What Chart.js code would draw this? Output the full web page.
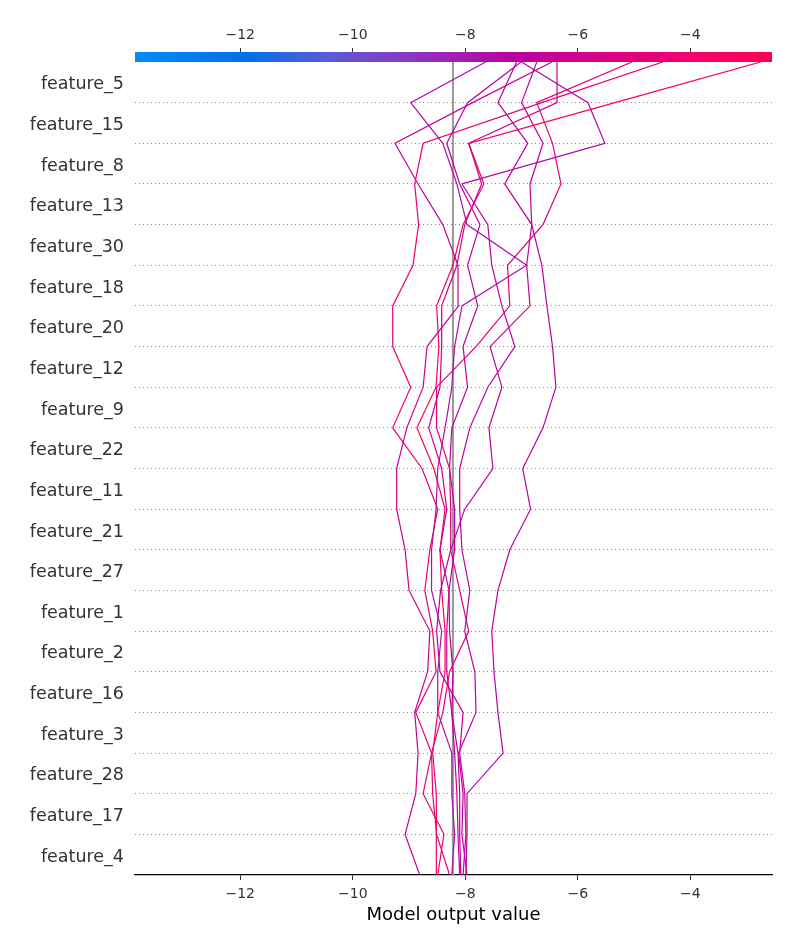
<!DOCTYPE html>
<html>
<head>
<meta charset="utf-8">
<script src="https://cdn.jsdelivr.net/npm/chart.js@4.4.1/dist/chart.umd.min.js"></script>
<style>
  body { margin: 0; background: #fff; }
</style>
</head>
<body>
<canvas id="chart" width="800" height="950"></canvas>
<script>
// features, top of the plot to bottom
const features = ['feature_5', 'feature_15', 'feature_8', 'feature_13', 'feature_30', 'feature_18',
  'feature_20', 'feature_12', 'feature_9', 'feature_22', 'feature_11', 'feature_21', 'feature_27',
  'feature_1', 'feature_2', 'feature_16', 'feature_3', 'feature_28', 'feature_17', 'feature_4'];
const xTicks = [-12, -10, -8, -6, -4];
const xMin = -13.87;
const xMax = -2.55;
const baseValue = -8.22;

// cumulative model output per observation, from the bottom row boundary up to the top
const obs1 = [-8.24, -8.19, -8.24, -8.24, -8.49, -8.49, -8.42, -8.60, -8.60, -8.52, -8.49, -8.36, -8.24, -8.19, -8.06, -6.91, -7.97, -8.15, -8.40, -8.97, -7.64];
const obs2 = [-8.81, -9.07, -8.88, -8.84, -8.90, -8.67, -8.63, -9.00, -9.07, -9.22, -9.22, -9.04, -8.75, -8.68, -8.12, -8.13, -8.40, -8.84, -9.25, -7.87, -6.46];
const obs3 = [-7.99, -7.97, -7.97, -7.33, -7.42, -7.49, -7.53, -7.42, -7.21, -6.84, -6.98, -6.62, -6.39, -6.45, -6.55, -6.64, -6.82, -7.30, -6.89, -7.42, -7.09];
const obs4 = [-8.04, -7.99, -8.01, -8.10, -8.04, -8.45, -8.51, -8.44, -8.26, -8.01, -7.51, -7.58, -7.35, -7.56, -6.85, -6.91, -6.82, -6.85, -6.62, -7.00, -6.73];
const obs5 = [-7.97, -8.06, -8.04, -8.12, -7.81, -7.83, -8.01, -7.92, -8.06, -8.10, -8.10, -7.92, -7.60, -7.12, -7.35, -7.53, -7.60, -8.06, -5.52, -5.82, -7.00];
const obs6 = [-8.28, -8.51, -8.58, -8.60, -8.40, -8.28, -7.94, -8.10, -8.26, -8.26, -8.28, -8.51, -8.51, -7.81, -7.21, -7.25, -6.62, -6.30, -6.45, -6.73, -5.04];
const obs7 = [-8.10, -8.13, -8.15, -8.19, -8.24, -8.33, -8.33, -8.29, -8.45, -8.33, -8.42, -8.65, -8.45, -8.42, -8.42, -8.15, -8.01, -7.71, -7.94, -6.37, -6.37];
const obs8 = [-8.51, -8.52, -8.51, -8.58, -8.49, -8.36, -8.36, -8.42, -8.45, -8.36, -8.56, -8.86, -8.52, -8.47, -8.51, -8.22, -8.04, -7.67, -7.94, -5.34, -2.75];
const obs9 = [-8.49, -8.38, -8.75, -8.60, -8.88, -8.52, -8.58, -8.72, -8.63, -8.49, -8.77, -9.29, -8.97, -9.29, -9.29, -8.93, -8.83, -8.90, -8.75, -6.64, -4.49];
const obs10 = [-8.08, -8.10, -8.10, -8.13, -8.24, -8.22, -8.28, -8.29, -8.19, -8.19, -8.28, -8.24, -7.96, -8.04, -7.78, -7.96, -7.74, -8.10, -8.33, -7.96, -7.01];
const observations = [obs1, obs2, obs3, obs4, obs5, obs6, obs7, obs8, obs9, obs10];

// red-blue colour map stops
const cmap = [
  [0.00, [0, 139, 251]],
  [0.17, [0, 112, 232]],
  [0.30, [88, 92, 216]],
  [0.40, [128, 64, 200]],
  [0.50, [160, 32, 180]],
  [0.60, [186, 0, 162]],
  [0.70, [210, 0, 142]],
  [0.80, [230, 0, 122]],
  [0.90, [246, 0, 102]],
  [1.00, [255, 0, 82]]
];

function colorAt(t) {
  t = Math.max(0, Math.min(1, t));
  for (let i = 1; i < cmap.length; i++) {
    if (t <= cmap[i][0]) {
      const [t0, c0] = cmap[i - 1];
      const [t1, c1] = cmap[i];
      const f = (t - t0) / (t1 - t0);
      const c = c0.map((v, j) => Math.round(v + (c1[j] - v) * f));
      return `rgb(${c[0]}, ${c[1]}, ${c[2]})`;
    }
  }
  return 'rgb(255, 0, 82)';
}

const minus = v => String(v).replace('-', '\u2212');

const lineSets = observations.map(vals => ({
  data: vals.map((x, k) => ({x: x, y: k})),
  showLine: true,
  pointRadius: 0,
  borderWidth: 1.2,
  borderColor: colorAt((vals[vals.length - 1] - xMin) / (xMax - xMin)),
  order: 0
}));

const baseSet = {
  data: [{x: baseValue, y: 0}, {x: baseValue, y: features.length}],
  showLine: true,
  pointRadius: 0,
  borderWidth: 2,
  borderColor: '#999999',
  order: 1
};

const colorBar = {
  id: 'colorBar',
  afterDraw(chart) {
    const {ctx, chartArea} = chart;
    const g = ctx.createLinearGradient(chartArea.left, 0, chartArea.right, 0);
    cmap.forEach(([t, c]) => g.addColorStop(t, `rgb(${c[0]}, ${c[1]}, ${c[2]})`));
    ctx.save();
    ctx.fillStyle = g;
    ctx.fillRect(chartArea.left, chartArea.top - 10, chartArea.right - chartArea.left, 10);
    ctx.restore();
  }
};

Chart.defaults.font.family = 'DejaVu Sans';

new Chart(document.getElementById('chart'), {
  type: 'scatter',
  data: { datasets: [...lineSets, baseSet] },
  options: {
    responsive: false,
    animation: false,
    layout: { padding: { left: 0, right: 28, top: 0, bottom: 0 } },
    plugins: { legend: { display: false }, tooltip: { enabled: false } },
    scales: {
      x: {
        type: 'linear',
        position: 'bottom',
        min: xMin,
        max: xMax,
        afterBuildTicks: s => { s.ticks = xTicks.map(v => ({value: v})); },
        afterFit: s => { s.height = 75; },
        ticks: { color: '#333', font: { size: 14 }, padding: 6, callback: minus },
        grid: { drawOnChartArea: false, drawTicks: true, tickLength: 5, tickColor: '#333' },
        border: { display: true, color: '#000', width: 1.2 },
        title: { display: true, text: 'Model output value', color: '#000', font: { size: 18 }, padding: { top: 4, bottom: 24 } }
      },
      x2: {
        type: 'linear',
        axis: 'x',
        position: 'top',
        min: xMin,
        max: xMax,
        afterBuildTicks: s => { s.ticks = xTicks.map(v => ({value: v})); },
        afterFit: s => { s.height = 62; },
        ticks: { color: '#333', font: { size: 14 }, padding: 4, callback: minus },
        grid: { drawOnChartArea: false, drawTicks: true, tickLength: 14, tickColor: '#333' },
        border: { display: false }
      },
      y: {
        type: 'linear',
        min: 0,
        max: features.length,
        afterBuildTicks: s => {
          const t = [];
          for (let v = 0; v <= features.length * 2; v++) t.push({value: v / 2});
          s.ticks = t;
        },
        afterFit: s => { s.width = 135; },
        ticks: {
          autoSkip: false,
          color: '#333',
          font: { size: 17.5 },
          padding: 11,
          labelOffset: 2.5,
          callback: v => (v % 1 === 0.5 ? features[features.length - 1 - Math.floor(v)] : '')
        },
        grid: {
          drawTicks: false,
          lineWidth: 1,
          color: c => (c.tick && Number.isInteger(c.tick.value) && c.tick.value > 0 && c.tick.value < features.length) ? '#8a8a8a' : 'rgba(0,0,0,0)'
        },
        border: { display: false, dash: [1, 3] }
      }
    }
  },
  plugins: [colorBar]
});
</script>
</body>
</html>
